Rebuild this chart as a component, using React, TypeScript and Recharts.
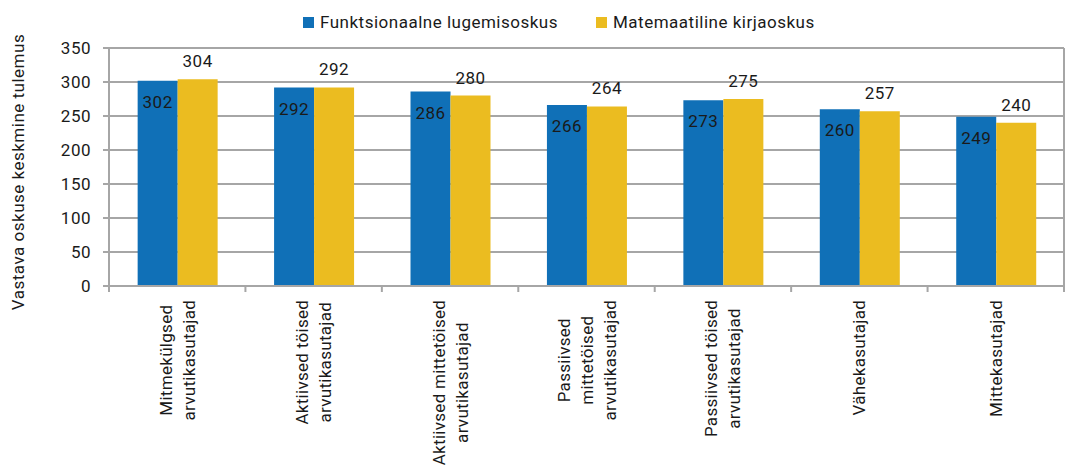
import { Bar, BarChart, CartesianGrid, LabelList, Legend, XAxis, YAxis } from "recharts"

// kategooriad (reavahetusega sildid)
const categories = [
  "Mitmekülgsed\narvutikasutajad",
  "Aktiivsed töised\narvutikasutajad",
  "Aktiivsed mittetöised\narvutikasutajad",
  "Passiivsed\nmittetöised\narvutikasutajad",
  "Passiivsed töised\narvutikasutajad",
  "Vähekasutajad",
  "Mittekasutajad",
]

const lugemisoskus = [302, 292, 286, 266, 273, 260, 249]
const kirjaoskus = [304, 292, 280, 264, 275, 257, 240]

const yTicks = [0, 50, 100, 150, 200, 250, 300, 350]

const seriesNames = ["Funktsionaalne lugemisoskus", "Matemaatiline kirjaoskus"]

const data = categories.map((name, i) => ({
  name,
  lugemine: lugemisoskus[i],
  matemaatika: kirjaoskus[i],
}))

const BLUE = "#1070B7"
const YELLOW = "#EBBC20"
const GRID = "#A6A6A6"
const TEXT = "#1a1a1a"
const FS = 17
const LS = 0.5
const TICK_LS = 0.3

let ctx: CanvasRenderingContext2D | null = null
const textWidth = (s: string) => {
  if (!ctx && typeof document !== "undefined") {
    ctx = document.createElement("canvas").getContext("2d")
  }
  if (!ctx) return s.length * 8.5
  ctx.font = `${FS}px Roboto`
  return ctx.measureText(s).width + TICK_LS * (s.length - 1)
}

const CategoryTick = (props: any) => {
  const { x, y, payload, index } = props
  const half = payload.offset && payload.offset > 10 ? payload.offset : 68.2
  const lines: string[] = String(payload.value).split("\n")
  const lh = 23
  const start = -((lines.length - 1) * lh) / 2
  const maxW = Math.max(...lines.map(textWidth))
  return (
    <g>
      <line x1={x - half} x2={x - half} y1={y - 6} y2={y} stroke={GRID} strokeWidth={2} />
      {index === categories.length - 1 && (
        <line x1={x + half} x2={x + half} y1={y - 6} y2={y} stroke={GRID} strokeWidth={2} />
      )}
      <g transform={`translate(${x},${y + 8 + maxW / 2})`}>
        <text transform="rotate(-90)" textAnchor="middle" fontSize={FS} letterSpacing={TICK_LS} fill={TEXT}>
          {lines.map((l, i) => (
            <tspan key={i} x={0} y={start + i * lh} dominantBaseline="central">
              {l}
            </tspan>
          ))}
        </text>
      </g>
    </g>
  )
}

const LegendContent = () => (
  <div style={{ display: "flex", gap: 38, fontSize: FS, letterSpacing: LS, color: TEXT, lineHeight: "20px" }}>
    {seriesNames.map((n, i) => (
      <div key={n} style={{ display: "flex", alignItems: "center" }}>
        <span style={{ width: 11, height: 11, background: i === 0 ? BLUE : YELLOW, marginRight: 6 }} />
        <span>{n}</span>
      </div>
    ))}
  </div>
)

const YLabel = (props: any) => {
  const vb = props.viewBox || { y: 48, height: 238 }
  const cy = vb.y + vb.height / 2 + 5
  return (
    <text
      x={18}
      y={cy}
      transform={`rotate(-90, 18, ${cy})`}
      textAnchor="middle"
      dominantBaseline="central"
      fontSize={FS}
      letterSpacing={LS}
      fill={TEXT}
    >
      Vastava oskuse keskmine tulemus
    </text>
  )
}

export default function App() {
  return (
    <div style={{ position: "absolute", left: 0, top: 0, fontFamily: "Roboto, sans-serif", background: "#fff" }}>
      <BarChart
        width={1066}
        height={468}
        data={data}
        margin={{ top: 48, right: 1, bottom: 0, left: 0 }}
        barCategoryGap="21%"
        barGap={0}
      >
        <CartesianGrid vertical={false} stroke={GRID} strokeWidth={2} />
        <XAxis
          dataKey="name"
          interval={0}
          height={182}
          tickLine={false}
          tickSize={6}
          tickMargin={0}
          axisLine={{ stroke: GRID, strokeWidth: 2 }}
          tick={<CategoryTick />}
        />
        <YAxis
          domain={[0, 350]}
          ticks={yTicks}
          width={109}
          tickSize={6}
          tickMargin={12}
          tickLine={{ stroke: GRID, strokeWidth: 2 }}
          axisLine={{ stroke: GRID, strokeWidth: 2 }}
          tick={{ fill: TEXT, fontSize: FS, letterSpacing: LS }}
          label={YLabel}
        />
        <YAxis
          yAxisId="right"
          orientation="right"
          width={1}
          tick={false}
          tickLine={false}
          axisLine={{ stroke: GRID, strokeWidth: 2 }}
        />
        <Legend verticalAlign="middle" content={LegendContent} wrapperStyle={{ top: 12, left: 303, width: "auto" }} />
        <Bar dataKey="lugemine" name={seriesNames[0]} fill={BLUE} isAnimationActive={false}>
          <LabelList dataKey="lugemine" position="insideTop" offset={15} fill={TEXT} fontSize={FS} letterSpacing={LS} />
        </Bar>
        <Bar dataKey="matemaatika" name={seriesNames[1]} fill={YELLOW} isAnimationActive={false}>
          <LabelList dataKey="matemaatika" position="top" offset={12} fill={TEXT} fontSize={FS} letterSpacing={LS} />
        </Bar>
      </BarChart>
    </div>
  )
}
